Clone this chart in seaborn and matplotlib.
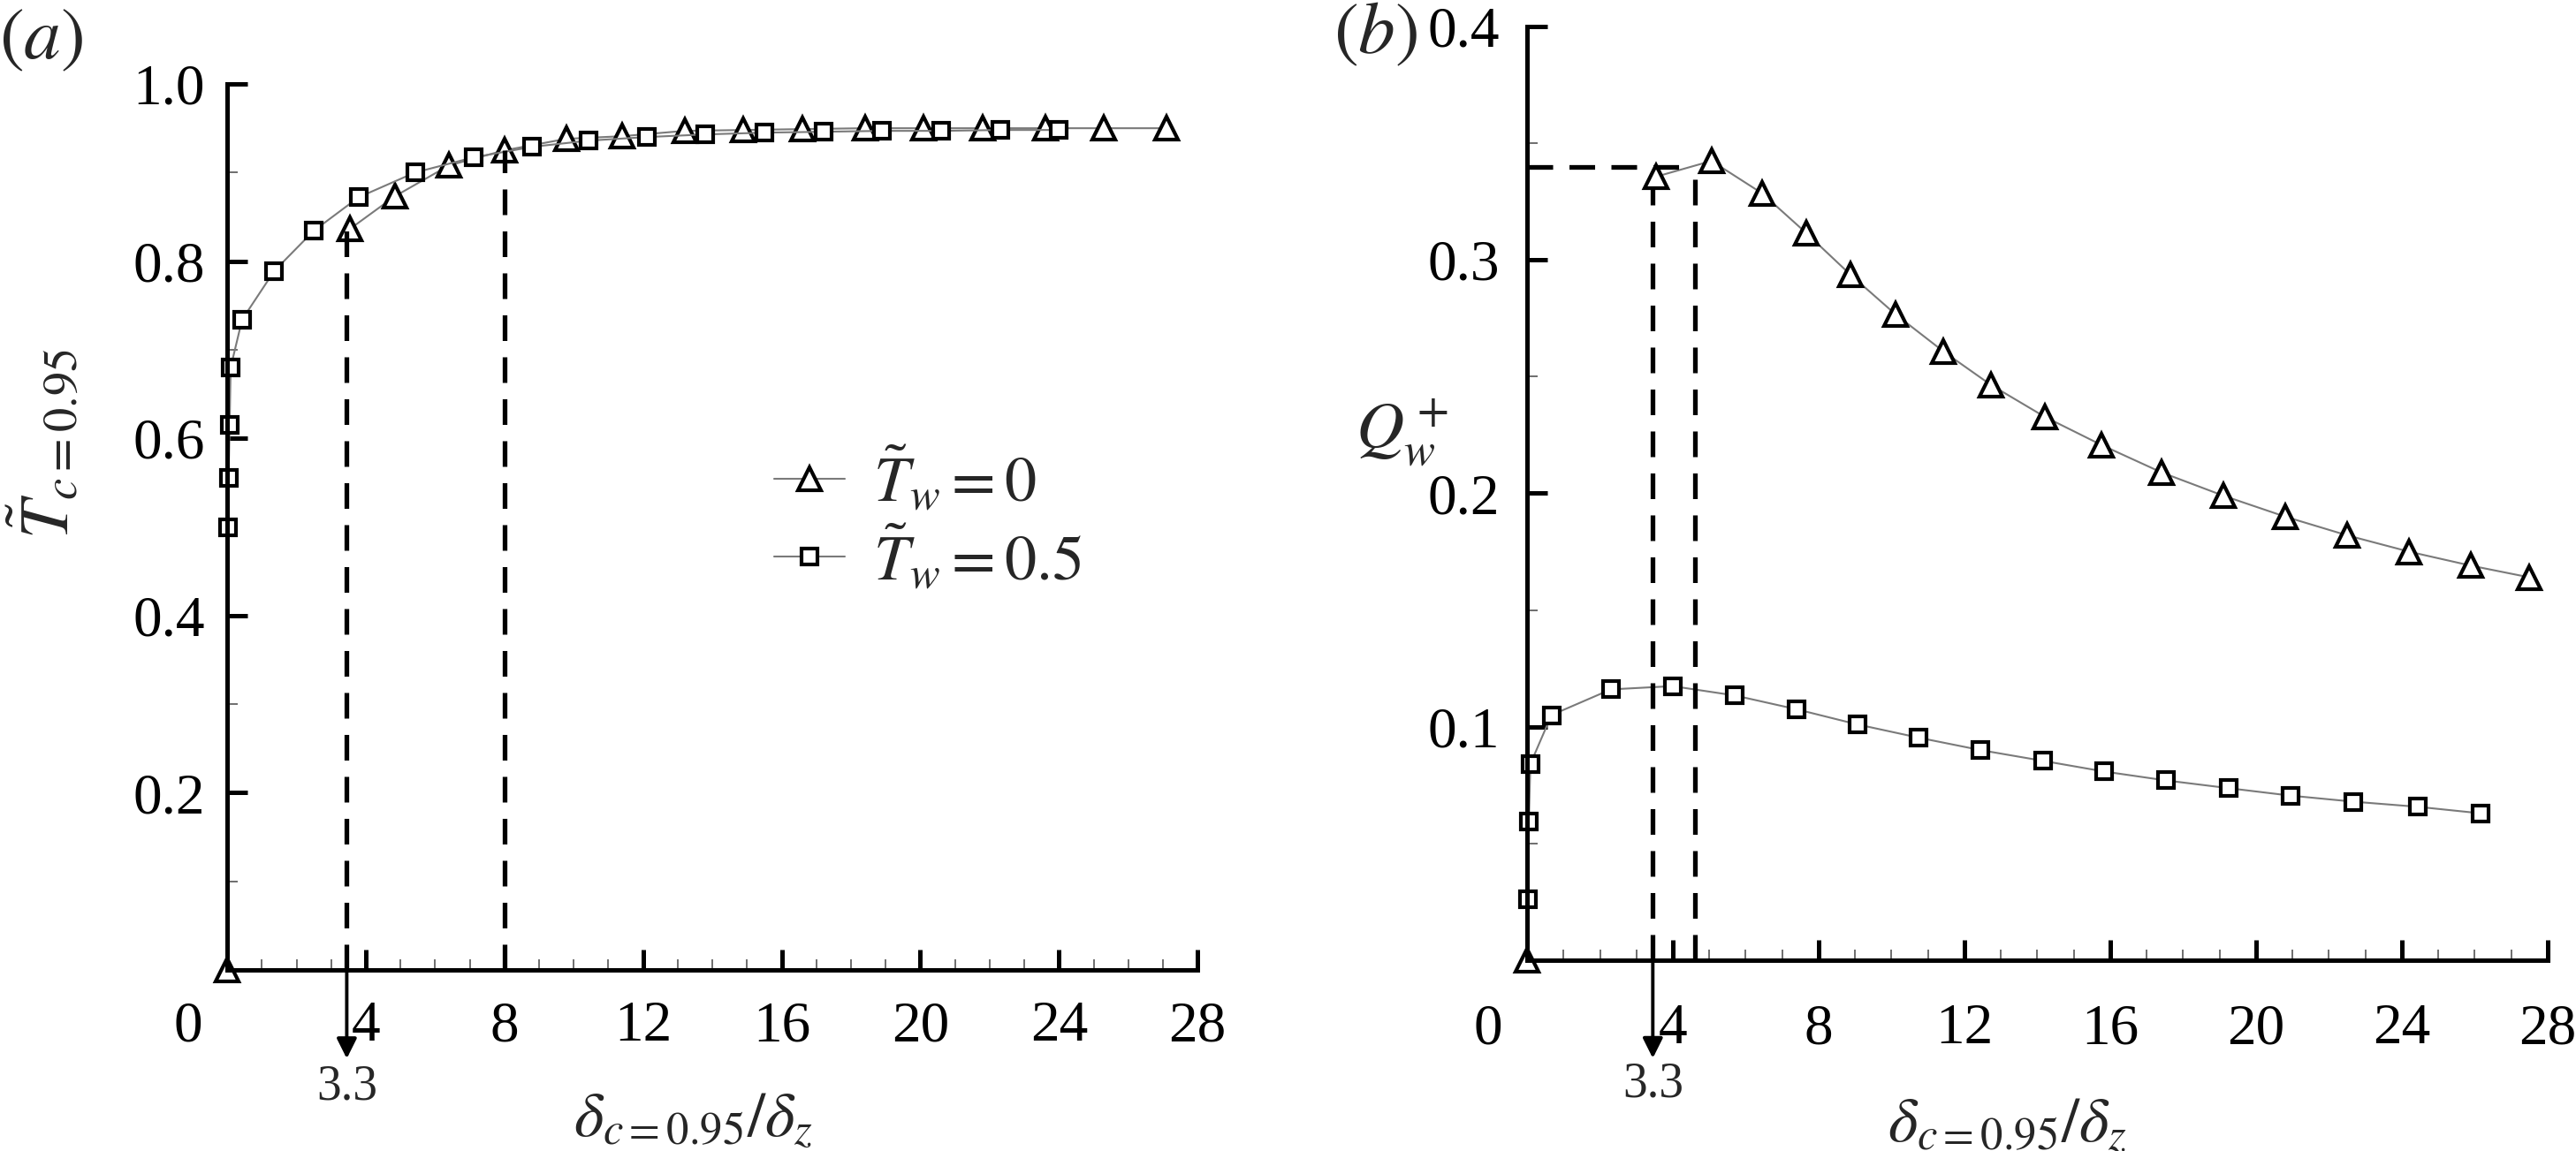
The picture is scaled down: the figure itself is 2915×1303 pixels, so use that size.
import numpy as np
import pandas as pd
import seaborn as sns
import matplotlib.pyplot as plt
import matplotlib.ticker as mticker
from matplotlib.transforms import ScaledTranslation

# ---- data ----
# panel (a): T~_{c=0.95} vs delta_{c=0.95}/delta_z
tw0_x_a = [3.53, 4.83, 6.4, 8.0, 9.78, 11.4, 13.2, 14.9, 16.6, 18.4, 20.1, 21.8, 23.6, 25.3, 27.1]
tw0_y_a = [0.836, 0.873, 0.908, 0.925, 0.938, 0.941, 0.947, 0.948, 0.949, 0.950, 0.950, 0.950, 0.950, 0.950, 0.950]
tw05_x_a = [0.02, 0.04, 0.07, 0.10, 0.43, 1.36, 2.49, 3.79, 5.42, 7.1, 8.8, 10.43, 12.1,
            13.8, 15.5, 17.2, 18.9, 20.6, 22.3, 24.0]
tw05_y_a = [0.50, 0.555, 0.615, 0.68, 0.734, 0.789, 0.834, 0.872, 0.900, 0.917, 0.929, 0.936, 0.940,
            0.943, 0.945, 0.946, 0.947, 0.947, 0.948, 0.948]

# panel (b): Q_w^+ vs delta_{c=0.95}/delta_z
tw0_x_b = [3.55, 5.06, 6.45, 7.66, 8.87, 10.1, 11.43, 12.73, 14.2, 15.76, 17.4, 19.1, 20.8, 22.5, 24.2, 25.9, 27.5]
tw0_y_b = [0.3357, 0.3424, 0.3285, 0.3115, 0.2937, 0.2768, 0.2607, 0.2464, 0.2328, 0.2207,
           0.209, 0.199, 0.190, 0.182, 0.175, 0.169, 0.164]
tw05_x_b = [0.02, 0.05, 0.09, 0.67, 2.3, 3.99, 5.7, 7.39, 9.06, 10.75, 12.44, 14.15, 15.84,
            17.53, 19.24, 20.94, 22.67, 24.44, 26.17]
tw05_y_b = [0.026, 0.0595, 0.084, 0.105, 0.116, 0.1174, 0.1134, 0.1075, 0.101, 0.0953, 0.090,
            0.0854, 0.0808, 0.077, 0.0737, 0.0705, 0.0679, 0.0657, 0.0629]

# isolated T_w=0 point at the origin (both panels)
origin_x = [0.0]
origin_y = [0.0]

# annotation guides
arrow_x = 3.45          # drawn position of the "3.3" marker
arrow_label = '3.3'
guide_a_x = [arrow_x, 8.0]
guide_a_top = [0.835, 0.925]
guide_b_x = [arrow_x, 4.6]
guide_b_top = [0.331, 0.34]
guide_b_level = 0.34

x_ticks = [0, 4, 8, 12, 16, 20, 24, 28]
legend_labels = [r'$\tilde{T}_w = 0$', r'$\tilde{T}_w = 0.5$']

sns.set_theme(style='ticks')
plt.rcParams['font.family'] = ['Liberation Serif', 'DejaVu Serif']
plt.rcParams['mathtext.fontset'] = 'stix'

fig = plt.figure(figsize=(29.15, 13.03), dpi=100)
ax_a = fig.add_axes([0.0882, 0.1573, 0.3767, 0.7698])
ax_b = fig.add_axes([0.5928, 0.1658, 0.3962, 0.8112])

line_kw = dict(color='#7a7a7a', linewidth=1.5, markerfacecolor='white',
               markeredgecolor='black', markeredgewidth=3.0, clip_on=False)
tri_kw = dict(marker='^', markersize=19, **line_kw)
sq_kw = dict(marker='s', markersize=13, **line_kw)
dash_kw = dict(color='black', linewidth=3.8, linestyle=(0, (5.5, 3.5)))


def draw_panel(ax, x0, y0, x5, y5):
    d0 = pd.DataFrame({'x': x0, 'y': y0})
    d5 = pd.DataFrame({'x': x5, 'y': y5})
    sns.lineplot(data=d0, x='x', y='y', ax=ax, label=legend_labels[0], **tri_kw)
    sns.lineplot(data=d5, x='x', y='y', ax=ax, label=legend_labels[1], **sq_kw)
    sns.lineplot(x=origin_x, y=origin_y, ax=ax, marker='^', markersize=19, linestyle='',
                 markerfacecolor='white', markeredgecolor='black', markeredgewidth=3.0,
                 clip_on=False, legend=False)


def style_axes(ax, ymax, ymajor, yminor, xlabel_x, xlabel_y, ypad, xpad):
    ax.set_xlim(0, 28)
    ax.set_ylim(0, ymax)
    ax.xaxis.set_major_locator(mticker.FixedLocator(x_ticks))
    ax.xaxis.set_minor_locator(mticker.MultipleLocator(1))
    ax.yaxis.set_major_locator(mticker.MultipleLocator(ymajor))
    ax.yaxis.set_minor_locator(mticker.MultipleLocator(yminor))
    ax.yaxis.set_major_formatter(mticker.FuncFormatter(lambda v, p: '' if abs(v) < 1e-9 else f'{v:.1f}'))
    ax.xaxis.set_major_formatter(mticker.FuncFormatter(lambda v, p: f'{v:.0f}'))
    for s in ['top', 'right']:
        ax.spines[s].set_visible(False)
    for s in ['left', 'bottom']:
        ax.spines[s].set_linewidth(3.6)
        ax.spines[s].set_color('black')
    ax.tick_params(which='major', direction='in', length=16.5, width=3.6, color='black',
                   labelsize=47, labelcolor='black')
    ax.tick_params(which='minor', direction='in', length=8.5, width=1.2, color='#555555')
    ax.tick_params(axis='y', which='major', pad=ypad)
    ax.tick_params(axis='x', which='major', pad=xpad)
    ax.grid(False)
    ax.set_facecolor('white')
    ax.set_xlabel(r'$\delta_{c=0.95}/\delta_z$', fontsize=52)
    ax.xaxis.set_label_coords(xlabel_x, xlabel_y)
    ax.xaxis.label.set_verticalalignment('center')
    # the "0" label sits left of the origin
    lbl0 = ax.get_xticklabels()[0]
    lbl0.set_transform(lbl0.get_transform() + ScaledTranslation(-0.44, 0, fig.dpi_scale_trans))


# ---- panel (a) ----
draw_panel(ax_a, tw0_x_a, tw0_y_a, tw05_x_a, tw05_y_a)
for gx, gt in zip(guide_a_x, guide_a_top):
    ax_a.plot([gx, gx], [0, gt], **dash_kw)
style_axes(ax_a, 1.0, 0.2, 0.1, 0.48, -0.17, 18, 25)
ax_a.set_ylabel(r'$\tilde{T}_{c=0.95}$', fontsize=56)
ax_a.yaxis.set_label_coords(-0.187, 0.594)
ax_a.yaxis.label.set_verticalalignment('center')
ax_a.annotate('', xy=(arrow_x, -0.10), xytext=(arrow_x, 0.0),
              arrowprops=dict(arrowstyle='-|>', lw=2.8, color='black', mutation_scale=34,
                              shrinkA=0, shrinkB=0), annotation_clip=False)
ax_a.text(arrow_x, -0.132, arrow_label, fontsize=40, ha='center', va='center')
leg = ax_a.legend(loc='center left', bbox_to_anchor=(0.564, 0.509), frameon=False,
                  fontsize=52, handlelength=1.1, handletextpad=0.45, labelspacing=0.15,
                  borderaxespad=0, borderpad=0)

# ---- panel (b) ----
draw_panel(ax_b, tw0_x_b, tw0_y_b, tw05_x_b, tw05_y_b)
ax_b.plot([0, guide_b_x[1]], [guide_b_level, guide_b_level], **dash_kw)
for gx, gt in zip(guide_b_x, guide_b_top):
    ax_b.plot([gx, gx], [0, gt], **dash_kw)
style_axes(ax_b, 0.4, 0.1, 0.05, 0.471, -0.178, 22, 35)
ax_b.set_ylabel(r'$Q_w^+$', fontsize=54, rotation=0)
ax_b.yaxis.set_label_coords(-0.122, 0.565)
ax_b.yaxis.label.set_verticalalignment('center')
ax_b.yaxis.label.set_horizontalalignment('center')
ax_b.annotate('', xy=(arrow_x, -0.042), xytext=(arrow_x, 0.0),
              arrowprops=dict(arrowstyle='-|>', lw=2.8, color='black', mutation_scale=34,
                              shrinkA=0, shrinkB=0), annotation_clip=False)
ax_b.text(arrow_x, -0.133, arrow_label, fontsize=40, ha='center', va='center',
          transform=ax_b.get_xaxis_transform())
ax_b.get_legend().remove()

fig.text(47 / 2915, 1 - 47 / 1303, r'$(a)$', fontsize=60, ha='center', va='center')
fig.text(1557 / 2915, 1 - 40 / 1303, r'$(b)$', fontsize=60, ha='center', va='center')

fig.savefig('out.png', dpi=100, facecolor='white')
